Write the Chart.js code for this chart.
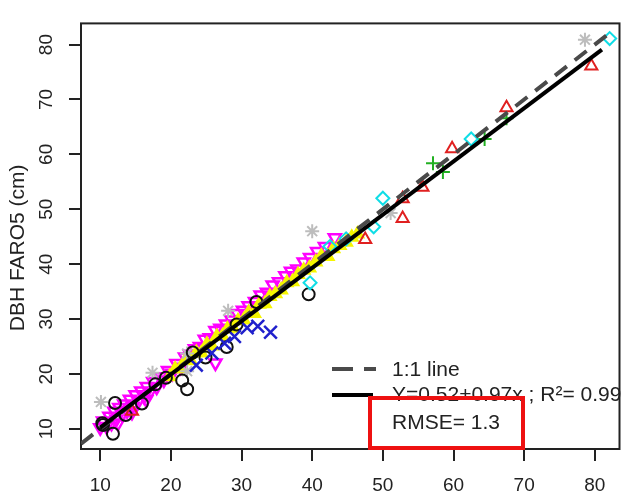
<!DOCTYPE html>
<html>
<head>
<meta charset="utf-8">
<script src="https://cdn.jsdelivr.net/npm/chart.js@4.4.1/dist/chart.umd.min.js"></script>
<style>
  html, body { margin: 0; padding: 0; background: #fff; }
  #wrap { width: 631px; height: 500px; }
</style>
</head>
<body>
<div id="wrap"><canvas id="myChart" width="631" height="500"></canvas></div>
<script>
const xTicks = [10, 20, 30, 40, 50, 60, 70, 80];
const yTicks = [10, 20, 30, 40, 50, 60, 70, 80];

// reference DBH (x) vs FARO5 DBH (y), by group
const blackCircles = [[10.4,10.7],[10.3,11.0],[11.8,9.1],[12.1,14.7],[13.6,12.5],[15.9,14.6],[17.8,18.1],
  [19.3,19.3],[21.6,18.8],[22.3,17.2],[23.1,23.9],[24.9,23.0],[27.9,24.9],[29.3,29.0],[32.1,33.1],[39.5,34.5]];
const redTriangles = [[14.5,13.2],[47.5,44.5],[52.8,48.3],[52.8,51.9],[55.6,54.0],[59.8,61.0],[67.5,68.5],[79.5,76.1]];
const cyanDiamonds = [[39.7,36.6],[42.5,43.2],[44.8,44.6],[48.7,46.8],[50.0,52.0],[62.5,62.8],[82.1,81.1]];
const greenPlus = [[57.1,58.4],[58.5,56.8],[64.4,62.8],[67.5,66.6]];
const blueCross = [[23.6,21.6],[25.8,23.8],[27.6,25.6],[29.0,26.8],[30.8,28.4],[32.3,28.7],[34.1,27.6]];
const greyStars = [[10.1,14.9],[17.4,20.2],[22.3,23.7],[22.3,20.5],[28.1,31.5],[40.0,46.0],[51.1,49.3],[78.6,80.9]];
const yellowTriangles = [[19.8,19.5],[20.6,20.9],[21.3,21.0],[22.1,22.6],[22.8,22.4],[23.6,23.9],[24.3,23.8],
  [25.1,25.4],[25.8,25.1],[26.5,26.8],[27.3,26.9],[28.0,28.2],[28.8,28.3],[29.5,29.7],[30.3,29.8],[31.0,31.2],
  [31.8,31.0],[32.5,32.7],[33.3,32.8],[34.0,34.1],[34.8,34.6],[35.6,35.3],[36.4,36.6],[37.2,36.8],[38.0,38.1],
  [38.8,38.9],[39.6,39.3],[40.5,40.4],[41.3,41.5],[42.2,41.4],[43.0,42.8],[43.9,43.4],[44.8,44.0],[45.6,44.9],[46.4,45.5]];
const magentaTriangles = [[10.0,10.2],[10.4,11.4],[10.9,10.4],[11.3,12.3],[11.6,11.0],[12.0,13.2],[12.3,11.8],
  [12.5,11.0],[12.7,13.9],[13.1,12.6],[13.4,14.5],[13.8,13.3],[14.2,15.4],[14.5,13.0],[14.6,14.1],[15.0,16.2],
  [15.4,15.0],[15.8,16.9],[16.2,15.9],[16.5,15.3],[16.6,17.7],[17.0,16.6],[17.5,18.6],[18.0,17.6],[18.5,19.5],
  [19.0,18.9],[19.6,20.6],[20.2,20.1],[20.8,21.9],[21.4,21.2],[22.0,23.1],[22.7,23.6],[23.4,24.6],[24.1,25.0],
  [24.8,26.3],[25.5,26.6],[26.3,27.9],[27.0,28.3],[27.8,29.1],[28.6,29.8],[29.4,31.0],[30.2,31.6],[31.0,32.4],
  [31.9,33.2],[32.7,34.4],[33.6,34.9],[34.4,36.2],[35.3,36.8],[36.2,37.9],[37.0,38.7],[37.9,39.1],[38.8,40.4],
  [39.7,41.2],[40.7,42.3],[41.8,43.2],[43.2,44.8],[26.3,22.0]];

// fitted line and 1:1 line
const fitIntercept = 0.52, fitSlope = 0.97;
const fitRange = [10, 81];
const oneToOneRange = [7.3, 82.2];

const FONT = "'Liberation Sans', Arial, sans-serif";
const pts = arr => arr.map(p => ({ x: p[0], y: p[1] }));

function pointSet(label, data, style, color, opts) {
  return Object.assign({
    label: label,
    data: pts(data),
    pointStyle: style,
    pointRadius: 7,
    pointHoverRadius: 7,
    pointBorderWidth: 2,
    borderColor: color,
    backgroundColor: 'rgba(0,0,0,0)',
    showLine: false
  }, opts || {});
}

const boxPlugin = {
  id: 'rbox',
  beforeDatasetsDraw(chart) {
    const a = chart.chartArea, c = chart.ctx;
    c.save();
    c.strokeStyle = '#222';
    c.lineWidth = 2;
    c.strokeRect(a.left, a.top, a.right - a.left, a.bottom - a.top);
    c.restore();
  },
  afterDraw(chart) {
    const c = chart.ctx;
    c.save();
    c.lineWidth = 4;
    c.strokeStyle = '#4a4a4a';
    c.setLineDash([21, 11]);
    c.beginPath(); c.moveTo(332, 369); c.lineTo(376, 369); c.stroke();
    c.setLineDash([]);
    c.strokeStyle = '#000';
    c.beginPath(); c.moveTo(332, 395); c.lineTo(373, 395); c.stroke();
    c.fillStyle = '#222';
    c.font = '21px ' + FONT;
    c.textBaseline = 'middle';
    c.textAlign = 'left';
    c.fillText('1:1 line', 392, 370);
    c.fillText('Y=0.52+0.97x ; R²= 0.99', 392, 395);
    c.fillText('RMSE= 1.3', 392, 423);
    c.strokeStyle = '#ee1111';
    c.lineWidth = 4;
    c.strokeRect(370, 398, 153, 50);
    c.restore();
  }
};

const ctx = document.getElementById('myChart').getContext('2d');
new Chart(ctx, {
  type: 'scatter',
  data: {
    datasets: [
      {
        label: 'fit',
        data: fitRange.map(x => ({ x: x, y: fitIntercept + fitSlope * x })),
        showLine: true, borderColor: '#000', borderWidth: 4, pointRadius: 0
      },
      {
        label: '1:1 line',
        data: oneToOneRange.map(v => ({ x: v, y: v })),
        showLine: true, borderColor: '#4a4a4a', borderWidth: 4, borderDash: [15, 10], pointRadius: 0
      },
      pointSet('red', redTriangles, 'triangle', '#e02020'),
      pointSet('cyan', cyanDiamonds, 'rectRot', '#10dde6', { pointRadius: 6.5 }),
      pointSet('green', greenPlus, 'cross', '#22b022'),
      pointSet('blue', blueCross, 'crossRot', '#2020cc', { pointRadius: 9, pointBorderWidth: 2.5 }),
      pointSet('black', blackCircles, 'circle', '#111', { pointRadius: 6 }),
      pointSet('grey', greyStars, 'star', '#bdbdbd'),
      pointSet('yellow', yellowTriangles, 'triangle', '#f6f600', { backgroundColor: '#f6f600' }),
      pointSet('magenta', magentaTriangles, 'triangle', '#ff00ff', { rotation: 180, pointBorderWidth: 2.5 })
    ]
  },
  options: {
    responsive: false,
    animation: false,
    events: [],
    layout: { padding: { top: 7, right: 4, left: 0, bottom: 0 } },
    plugins: { legend: { display: false }, tooltip: { enabled: false } },
    scales: {
      x: {
        type: 'linear',
        min: 7.28, max: 83.49,
        afterBuildTicks: s => { s.ticks = xTicks.map(v => ({ value: v })); },
        afterFit: s => { s.height = 51; },
        grid: { drawOnChartArea: false, drawTicks: true, tickLength: 12, color: '#222', lineWidth: 2 },
        border: { display: false },
        ticks: { font: { size: 19, family: FONT }, color: '#222', padding: 13, maxRotation: 0 }
      },
      y: {
        type: 'linear',
        min: 6.32, max: 83.86,
        afterBuildTicks: s => { s.ticks = yTicks.map(v => ({ value: v })); },
        afterFit: s => { s.width = 81; },
        grid: { drawOnChartArea: false, drawTicks: true, tickLength: 12, color: '#222', lineWidth: 2 },
        border: { display: false },
        ticks: { font: { size: 19, family: FONT }, color: '#222', padding: 12,
                 minRotation: 90, maxRotation: 90, crossAlign: 'center' },
        title: { display: true, text: 'DBH FARO5 (cm)    ', font: { size: 21, family: FONT },
                 color: '#222', padding: { top: 6, bottom: 0 } }
      }
    }
  },
  plugins: [boxPlugin]
});
</script>
</body>
</html>
